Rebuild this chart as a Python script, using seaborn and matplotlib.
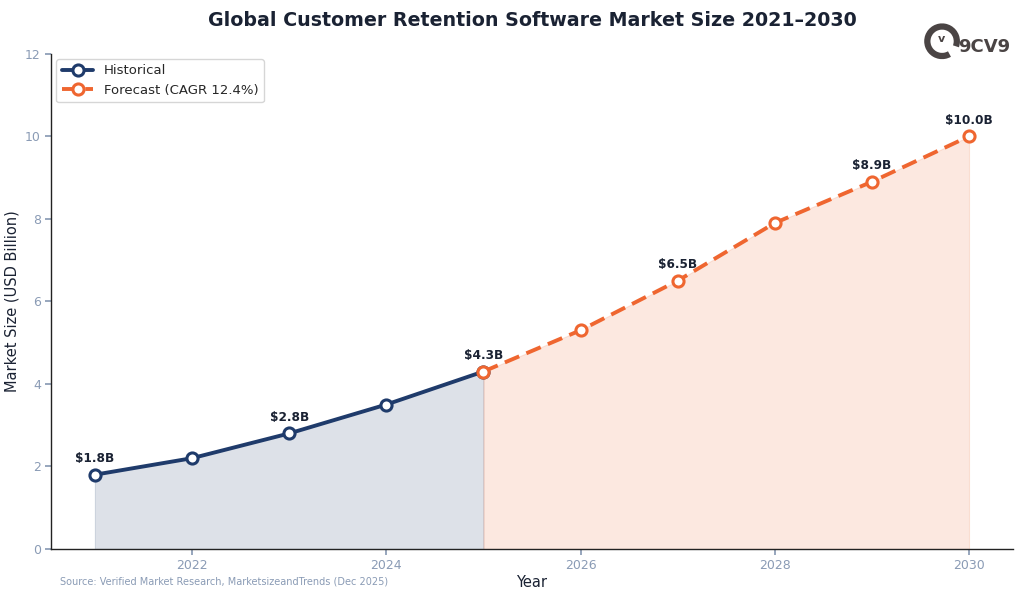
import matplotlib
matplotlib.use("Agg")
import matplotlib.pyplot as plt
from matplotlib.patches import Arc
import seaborn as sns
import pandas as pd

# ── DATA ──────────────────────────────────────────────────────────────────────
hist_years = [2021, 2022, 2023, 2024, 2025]
hist_values = [1.8, 2.2, 2.8, 3.5, 4.3]
fc_years = [2025, 2026, 2027, 2028, 2029, 2030]
fc_values = [4.3, 5.3, 6.5, 7.9, 8.9, 10.0]
label_years = [2021, 2023, 2025, 2027, 2029, 2030]

# ── STYLE ─────────────────────────────────────────────────────────────────────
sns.set_theme(style="white")
plt.rcParams["font.family"] = ["DejaVu Sans"]
NAVY = "#1f3b6b"
ORANGE = "#ef6630"
TICK = "#8a9bb5"
DARK = "#1a2233"
LOGO = "#4a4444"

hist = pd.DataFrame({"year": hist_years, "value": hist_values})
fc = pd.DataFrame({"year": fc_years, "value": fc_values})

fig, ax = plt.subplots(figsize=(10.24, 5.98), dpi=100)
fig.subplots_adjust(left=0.05, right=0.989, top=0.91, bottom=0.082)

ax.fill_between(hist["year"], hist["value"], color=NAVY, alpha=0.15, lw=0.8)
ax.fill_between(fc["year"], fc["value"], color=ORANGE, alpha=0.15, lw=0.8)

sns.lineplot(data=hist, x="year", y="value", ax=ax, color=NAVY, lw=2.8,
             marker="o", markersize=8, markerfacecolor="white",
             markeredgecolor=NAVY, markeredgewidth=2.2, label="Historical", zorder=3)
sns.lineplot(data=fc, x="year", y="value", ax=ax, color=ORANGE, lw=2.8,
             ls=(0, (4, 2)), marker="o", markersize=8, markerfacecolor="white",
             markeredgecolor=ORANGE, markeredgewidth=2.2,
             label="Forecast (CAGR 12.4%)", zorder=3)

allv = dict(zip(hist_years + fc_years, hist_values + fc_values))
for yr in label_years:
    ax.annotate(f"${allv[yr]:.1f}B", xy=(yr, allv[yr]), xytext=(0, 7),
                textcoords="offset points", ha="center", va="bottom",
                fontsize=8.7, fontweight="bold", color=DARK)

ax.set_ylim(0, 12)
ax.set_xticks([2022, 2024, 2026, 2028, 2030])
ax.set_yticks([0, 2, 4, 6, 8, 10, 12])
ax.tick_params(axis="both", colors=TICK, labelsize=9, length=4, left=True, bottom=True)
for sp in ["left", "bottom"]:
    ax.spines[sp].set_color("#222222")
    ax.spines[sp].set_linewidth(1.0)
ax.spines["top"].set_visible(False)
ax.spines["right"].set_visible(False)

ax.set_xlabel("Year", fontsize=10.5, color=DARK, labelpad=2)
ax.set_ylabel("Market Size (USD Billion)", fontsize=10.5, color=DARK)
ax.set_title("Global Customer Retention Software Market Size 2021–2030",
             fontsize=13.7, fontweight="bold", color=DARK, pad=20)

leg = ax.legend(loc="upper left", fontsize=9.5, frameon=True, handlelength=2.4,
                borderaxespad=0.4)
leg.get_frame().set_edgecolor("#cccccc")

fig.text(0.059, 0.028, "Source: Verified Market Research, MarketsizeandTrends (Dec 2025)",
         fontsize=7, color=TICK, va="center")

# logo: ring mark + wordmark
lax = fig.add_axes([0.902, 0.9, 0.036, 0.062])
lax.set_xlim(-1, 1)
lax.set_ylim(-1, 1)
lax.set_aspect("equal")
lax.axis("off")
lax.add_patch(Arc((0, 0), 1.6, 1.6, theta1=-20, theta2=300, lw=4.5, color=LOGO))
lax.text(-0.05, 0.1, "v", fontsize=8, fontweight="bold", color=LOGO,
         ha="center", va="center")
fig.text(0.936, 0.922, "9CV9", fontsize=13, fontweight="bold", color=LOGO,
         ha="left", va="center")

plt.savefig("out.png", dpi=100)
